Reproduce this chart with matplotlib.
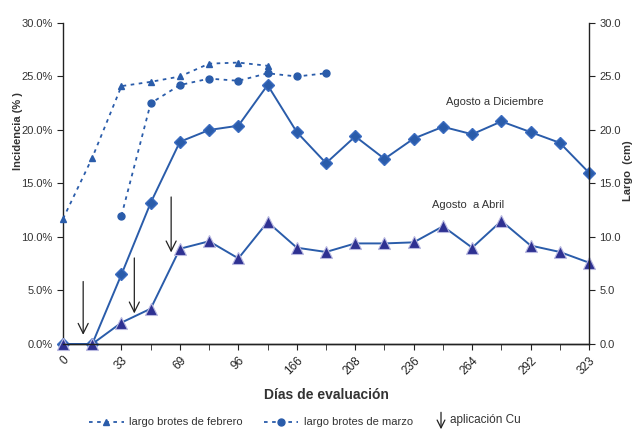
import matplotlib.pyplot as plt
from matplotlib.lines import Line2D
from matplotlib.patches import FancyArrowPatch

# Data (x = evaluation index, labels every other point)
x_idx = list(range(19))
tick_pos = [0, 2, 4, 6, 8, 10, 12, 14, 16, 18]
tick_lab = ['0', '33', '69', '96', '166', '208', '236', '264', '292', '323']

# incidence (%)
ago_dic = [0, 0, 6.5, 13.2, 18.9, 20.0, 20.4, 24.2, 19.8, 16.9, 19.4, 17.3,
           19.2, 20.3, 19.6, 20.8, 19.8, 18.8, 16.0]
ago_abr = [0, 0, 2.0, 3.3, 8.9, 9.6, 8.0, 11.4, 9.0, 8.6, 9.4, 9.4,
           9.5, 11.0, 9.0, 11.5, 9.2, 8.6, 7.6]

# shoot length (cm)
feb_x = [0, 1, 2, 3, 4, 5, 6, 7]
feb = [11.7, 17.4, 24.1, 24.5, 25.0, 26.2, 26.3, 26.0]
mar_x = [2, 3, 4, 5, 6, 7, 8, 9]
mar = [12.0, 22.5, 24.2, 24.8, 24.6, 25.3, 25.0, 25.3]

# Cu applications: (x, y top, y bottom)
cu_x = [0.69, 2.44, 3.7]
cu_top = [6.1, 8.3, 14.0]
cu_bot = [0.6, 2.6, 8.3]

plt.rcParams['font.family'] = ['Liberation Sans', 'DejaVu Sans']
txt = '#333333'
blue = '#2a5caa'
navy = '#2e3192'

fig = plt.figure(figsize=(6.41, 4.32), dpi=100)
ax = fig.add_axes([0.0983, 0.2037, 0.8207, 0.7431])
ax2 = ax.twinx()

ax.plot(x_idx, ago_dic, color=blue, lw=1.4, marker='D', ms=6,
        mfc=blue, mec='#3b6cc0', clip_on=False, zorder=4)
ax.plot(x_idx, ago_abr, color=blue, lw=1.4, marker='^', ms=8,
        mfc=navy, mec='#b8b8e0', mew=0.8, clip_on=False, zorder=4)
ax2.plot(feb_x, feb, color=blue, lw=1.3, ls=(0, (2, 2.5)), marker='^', ms=5,
         mfc=blue, mec=blue, clip_on=False)
ax2.plot(mar_x, mar, color=blue, lw=1.3, ls=(0, (2, 2.5)), marker='o', ms=5,
         mfc=blue, mec=blue, clip_on=False)

for x, t, b in zip(cu_x, cu_top, cu_bot):
    ax.annotate('', xy=(x, b), xytext=(x, t),
                arrowprops=dict(arrowstyle='->', color='#222222', lw=0.9,
                                mutation_scale=18))

ax.text(14.78, 22.6, 'Agosto a Diciembre', ha='center', va='center',
        fontsize=8, color=txt)
ax.text(13.86, 13.0, 'Agosto  a Abril', ha='center', va='center',
        fontsize=8, color=txt)

for a in (ax, ax2):
    a.set_xlim(0, 18)
    a.set_ylim(0, 30)
    a.set_yticks([0, 5, 10, 15, 20, 25, 30])
    a.spines['top'].set_visible(False)
    for s in a.spines.values():
        s.set_color('#222222')
        s.set_linewidth(1.0)
    a.tick_params(colors='#222222', labelcolor=txt, labelsize=8,
                  direction='out', length=4)

ax.spines['right'].set_visible(False)
ax2.spines['left'].set_visible(False)
ax.set_yticklabels(['%.1f%%' % v for v in [0, 5, 10, 15, 20, 25, 30]])
ax2.set_yticklabels(['%.1f' % v for v in [0, 5, 10, 15, 20, 25, 30]])

ax.set_xticks(x_idx, minor=True)
ax.set_xticks(tick_pos)
ax.set_xticklabels(tick_lab, rotation=45, ha='right', rotation_mode='anchor',
                   fontsize=8.5)
ax.tick_params(axis='x', which='both', length=4, colors='#222222')

# axis titles placed where the reference has them
fig.text(18 / 641, 1 - 131 / 432, 'Incidencia (% )', rotation=90,
         ha='center', va='center', fontsize=8, fontweight='bold', color=txt)
fig.text(628 / 641, 1 - 171 / 432, 'Largo  (cm)', rotation=90,
         ha='center', va='center', fontsize=8, fontweight='bold', color=txt)
ax.set_xlabel('Días de evaluación', fontsize=10, fontweight='bold',
              color=txt, labelpad=8)

handles = [
    Line2D([], [], color=blue, lw=1.3, ls=(0, (2, 2.5)), marker='^', ms=5),
    Line2D([], [], color=blue, lw=1.3, ls=(0, (2, 2.5)), marker='o', ms=5),
]
fig.legend(handles, ['largo brotes de febrero', 'largo brotes de marzo'],
           loc='center left', bbox_to_anchor=(0.139, 0.022), ncol=2,
           frameon=False, borderpad=0, borderaxespad=0,
           fontsize=8, handlelength=3.1, handletextpad=0.5,
           columnspacing=1.9, labelcolor=txt)
fig.patches.append(FancyArrowPatch(
    (0.688, 0.052), (0.688, 0.0), transform=fig.transFigure,
    arrowstyle='->', mutation_scale=14, color='#222222', lw=0.9))
fig.text(0.702, 0.028, 'aplicación Cu', fontsize=8.5, color=txt,
         ha='left', va='center')

fig.savefig('out.png', dpi=100)
